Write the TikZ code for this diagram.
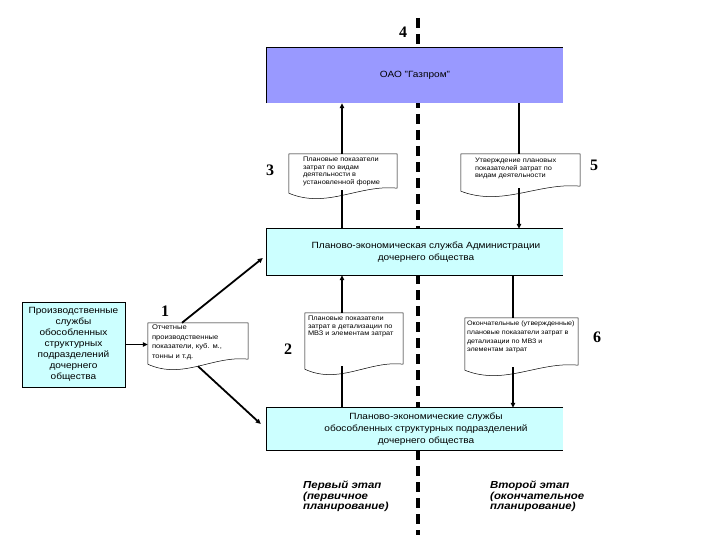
\documentclass[tikz,border=0pt]{standalone}
\usepackage{fontspec}
\setmainfont{Liberation Sans}[FakeStretch=1.12]
\newfontfamily\numfont{Liberation Serif}
\usetikzlibrary{arrows.meta,calc}

\definecolor{gazprom}{RGB}{153,153,255}
\definecolor{paleblue}{RGB}{204,255,255}

\tikzset{
  unitbox/.style={fill=#1, minimum width=296pt, inner sep=0pt},
  boxtext/.style={align=center, font=\fontsize{9}{11.7}\selectfont},
  docbox/.style={inner sep=0pt},
  doctext/.style={anchor=north west, inner sep=0pt, align=left, font=\fontsize{6.6}{7.5}\selectfont},
  num/.style={font=\numfont\bfseries\fontsize{16}{16}\selectfont},
  stage/.style={anchor=north west, inner sep=0pt, align=left, font=\bfseries\itshape\fontsize{10.2}{10.4}\selectfont},
  conn/.style={line width=1.8pt},
  arr/.style={conn, -{Triangle[length=5pt,width=4.5pt]}},
}

% document sheet with a wavy lower edge
\newcommand{\docsheet}[1]{%
  \filldraw[fill=white, line width=0.5pt]
    (#1.north west) -- (#1.north east) -- ([yshift=5pt]#1.south east)
    .. controls ($(#1.south east)!0.35!(#1.south west)+(0,-9)$)
       and ($(#1.south east)!0.65!(#1.south west)+(0,16)$) .. (#1.south west)
    -- cycle;}

\begin{document}
\begin{tikzpicture}[x=1pt,y=-1pt]

\useasboundingbox (0,0) rectangle (720,540);

% Boundary between the stages
\draw[line width=3.5pt, dash pattern=on 10pt off 6pt] (418,18) -- (418,535);

% Units
\node[unitbox=gazprom, minimum height=55pt] (oao) at (415,75.5)
  {\fontsize{9}{11}\selectfont ОАО "Газпром"};
\draw[line width=0.8pt] (oao.south west) -- (oao.north west) -- (oao.north east);

\node[unitbox=paleblue, minimum height=46pt,
  label={[boxtext, xshift=11pt]center:Планово-экономическая служба Администрации\\дочернего общества}]
  (pes) at (415,252) {};
\draw[line width=0.8pt] (pes.north east) -- (pes.north west) -- (pes.south west) -- (pes.south east);

\node[unitbox=paleblue, minimum height=42pt,
  label={[boxtext, xshift=11pt]center:Планово-экономические службы\\обособленных структурных подразделений\\дочернего общества}]
  (osp) at (415,429) {};
\draw[line width=0.8pt] (osp.north east) -- (osp.north west) -- (osp.south west) -- (osp.south east);

\node[fill=paleblue, draw, line width=0.8pt, minimum width=103pt, minimum height=85pt, inner sep=0pt,
  align=center, font=\fontsize{9}{11}\selectfont] (prod) at (73.5,344.5)
  {Производственные\\службы\\обособленных\\структурных\\подразделений\\дочернего\\общества};

% Documents
\node[docbox, minimum width=108pt, minimum height=39pt] (d3) at (343,173.5) {};
\docsheet{d3}
\node[doctext] (t3) at ([shift={(14,3)}]d3.north west)
  {Плановые показатели\\затрат по видам\\деятельности в\\установленной форме};

\node[docbox, minimum width=119pt, minimum height=37pt] (d5) at (520.5,172.5) {};
\docsheet{d5}
\node[doctext] (t5) at ([shift={(14,4)}]d5.north west)
  {Утверждение плановых\\показателей затрат по\\видам деятельности};

\node[docbox, minimum width=100pt, minimum height=41pt] (d1) at (198,343.5) {};
\docsheet{d1}
\node[doctext, font=\fontsize{6.8}{9.5}\selectfont] (t1) at ([shift={(4,2)}]d1.north west)
  {Отчетные\\производственные\\показатели, куб. м.,\\тонны и т.д.};

\node[docbox, minimum width=98pt, minimum height=56pt] (d2) at (354,341) {};
\docsheet{d2}
\node[doctext] (t2) at ([shift={(3,3)}]d2.north west)
  {Плановые показатели\\затрат в детализации по\\МВЗ и элементам затрат};

\node[docbox, minimum width=113pt, minimum height=52pt] (d6) at (521.5,344) {};
\docsheet{d6}
\node[doctext, font=\fontsize{6.4}{8.7}\selectfont] (t6) at ([shift={(2,3)}]d6.north west)
  {Окончательные (утвержденные)\\плановые показатели затрат в\\детализации по МВЗ и\\элементам затрат};

% Numbers
\node[num] (n4) at (403,32) {4};
\node[num] (n3) at (270,170) {3};
\node[num] (n5) at (594,165) {5};
\node[num] (n1) at (165,311) {1};
\node[num] (n2) at (288,349) {2};
\node[num] (n6) at (597,337) {6};

% Flows
\draw[arr] (prod.east) -- (prod.east -| d1.west);
\draw[arr] ([xshift=-16pt]d1.north) -- ([shift={(-4,6)}]pes.west);
\draw[arr] ([yshift=-2pt]d1.south) -- ([shift={(-6,-5)}]osp.west);

\draw[arr] ([xshift=-1pt]d3.north) -- ([xshift=-1pt]d3.north |- oao.south);
\draw[conn] ([xshift=-1pt]d3.north |- pes.north) -- ([shift={(-1,-3)}]d3.south);

\draw[conn] ([xshift=-1.5pt]d5.north |- oao.south) -- ([xshift=-1.5pt]d5.north);
\draw[arr] ([shift={(-1.5,-3)}]d5.south) -- ([xshift=-1.5pt]d5.south |- pes.north);

\draw[arr] ([xshift=-12pt]d2.north) -- ([xshift=-12pt]d2.north |- pes.south);
\draw[conn] ([xshift=-12pt]d2.north |- osp.north) -- ([shift={(-12,-3)}]d2.south);

\draw[conn] ([xshift=-8.5pt]d6.north |- pes.south) -- ([xshift=-8.5pt]d6.north);
\draw[arr] ([shift={(-8.5,-3)}]d6.south) -- ([xshift=-8.5pt]d6.south |- osp.north);

% Stages
\node[stage] (s1) at (303,481) {Первый этап\\(первичное\\планирование)};
\node[stage] (s2) at (490,481) {Второй этап\\(окончательное\\планирование)};

\end{tikzpicture}
\end{document}
